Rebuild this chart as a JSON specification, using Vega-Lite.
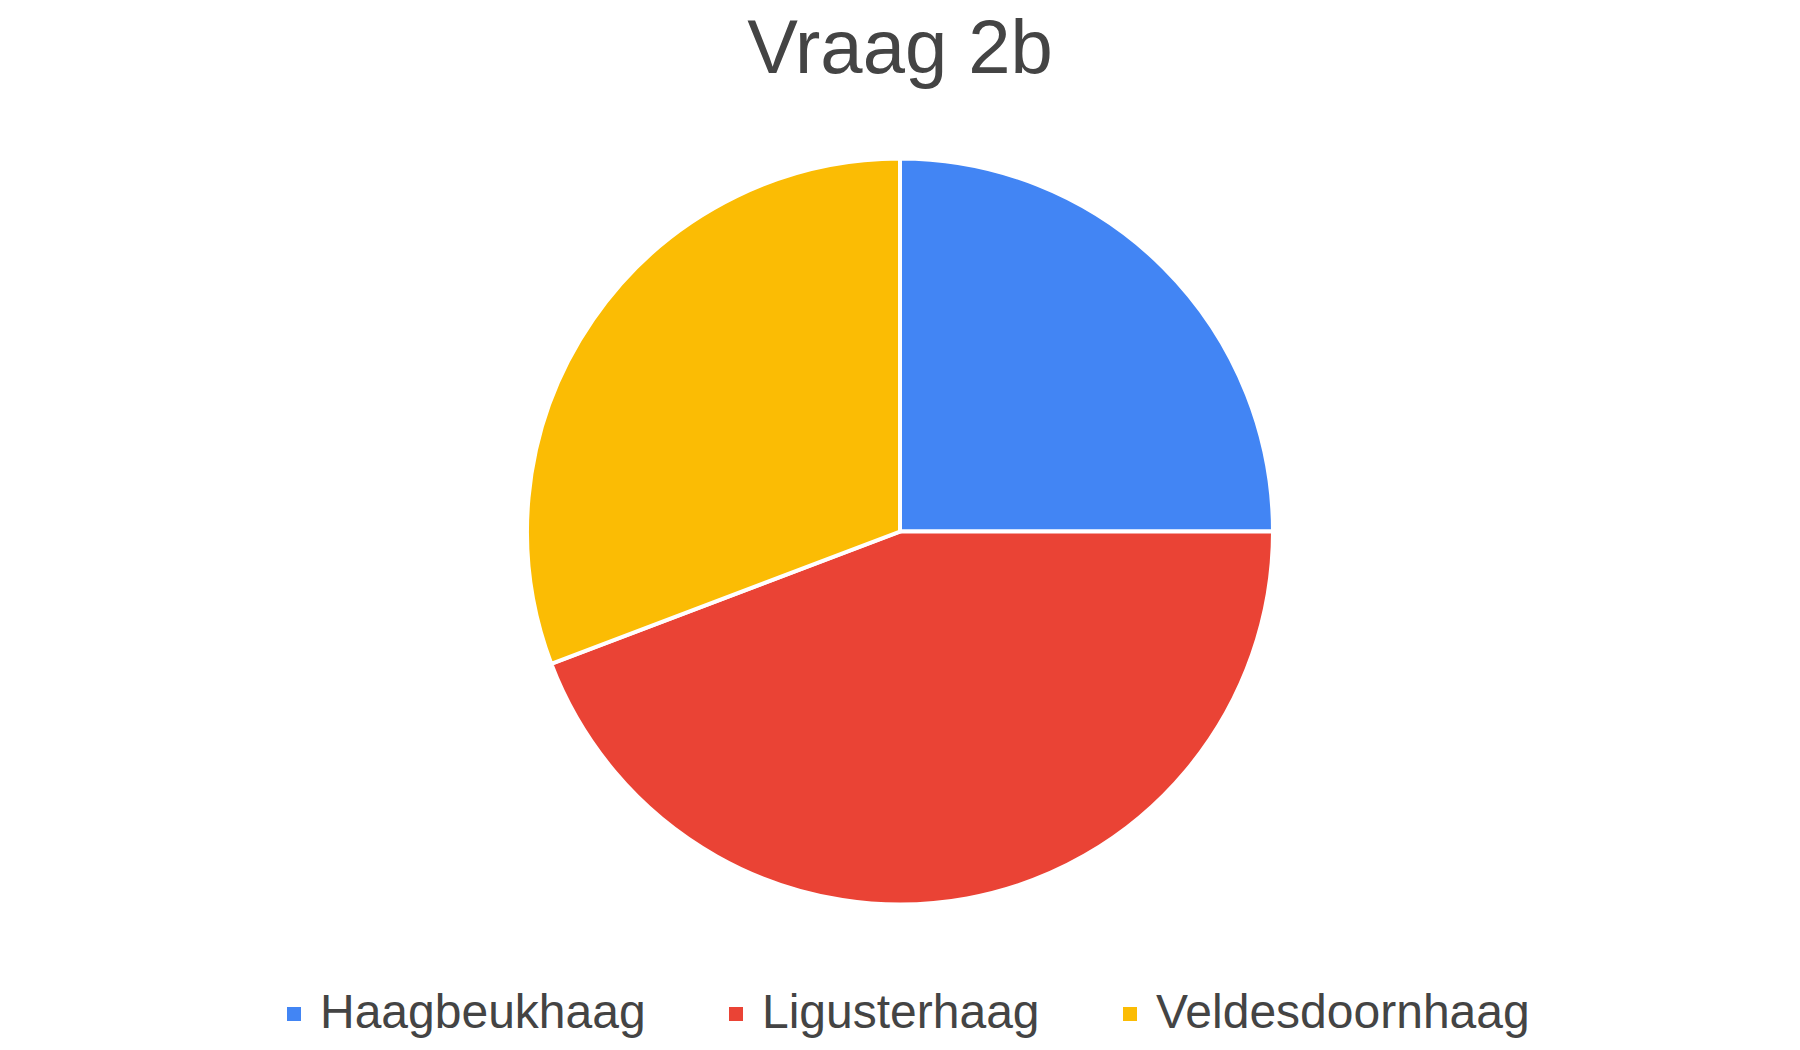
{
  "$schema": "https://vega.github.io/schema/vega-lite/v6.json",
  "width": 1800,
  "height": 1050,
  "autosize": {"type": "fit", "contains": "padding"},
  "padding": {"top": 12, "bottom": 12, "left": 0, "right": 0},
  "background": "white",
  "title": {
    "text": "Vraag 2b",
    "font": "Liberation Sans",
    "fontSize": 76,
    "fontWeight": "normal",
    "color": "#444444",
    "anchor": "middle",
    "offset": 30
  },
  "data": {
    "values": [
      {"soort": "Haagbeukhaag", "aantal": 13, "volgorde": 1},
      {"soort": "Ligusterhaag", "aantal": 23, "volgorde": 2},
      {"soort": "Veldesdoornhaag", "aantal": 16, "volgorde": 3}
    ]
  },
  "mark": {"type": "arc", "outerRadius": 373, "stroke": "white", "strokeWidth": 4},
  "encoding": {
    "theta": {"field": "aantal", "type": "quantitative", "stack": true},
    "order": {"field": "volgorde", "type": "quantitative"},
    "color": {
      "field": "soort",
      "type": "nominal",
      "sort": ["Haagbeukhaag", "Ligusterhaag", "Veldesdoornhaag"],
      "scale": {
        "domain": ["Haagbeukhaag", "Ligusterhaag", "Veldesdoornhaag"],
        "range": ["#4285F4", "#EA4335", "#FBBC04"]
      },
      "legend": {
        "title": null,
        "orient": "bottom",
        "direction": "horizontal",
        "symbolType": "square",
        "symbolSize": 196,
        "symbolStrokeWidth": 0,
        "labelFont": "Liberation Sans",
        "labelFontSize": 48,
        "labelColor": "#444444",
        "labelOffset": 2,
        "columnPadding": 66,
        "labelLimit": 600,
        "offset": 46
      }
    }
  },
  "config": {
    "view": {"stroke": null},
    "legend": {"layout": {"bottom": {"anchor": "middle"}}}
  }
}
